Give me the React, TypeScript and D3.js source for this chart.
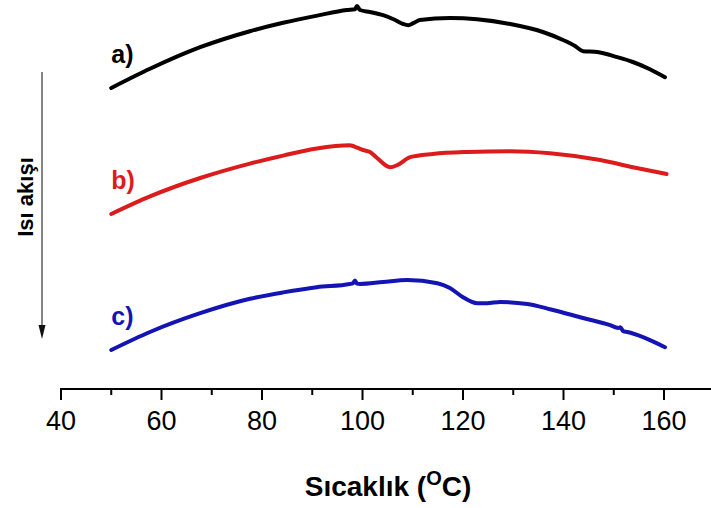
import React from "react";
import * as d3 from "d3";

// DSC traces, heat flow in arbitrary units
const tempsA = [50, 57.7, 67.7, 77.6, 84.2, 91, 96.9, 98.5, 98.9, 99.5, 101.5, 104.1, 106.5, 108.1, 109.1, 110.1, 111.4, 117.4, 122.8, 129.4, 135.9, 139.9, 142.3, 143.9, 146.7, 150.7, 153.8, 157.2, 160.2];
const flowA = [7.55, 8.03, 8.57, 8.97, 9.18, 9.36, 9.5, 9.52, 9.6, 9.5, 9.45, 9.37, 9.25, 9.15, 9.12, 9.17, 9.25, 9.3, 9.27, 9.15, 8.95, 8.75, 8.6, 8.47, 8.45, 8.32, 8.2, 8.02, 7.82];

const tempsB = [50, 57.7, 67.7, 77.6, 84.2, 90.9, 97.5, 98.1, 98.9, 100.1, 101.5, 102.9, 105.5, 106.9, 109.5, 114.0, 120.8, 129.4, 137.3, 147.3, 153.8, 160.5];
const flowB = [4.4, 4.84, 5.3, 5.66, 5.86, 6.04, 6.12, 6.1, 6.06, 6.0, 5.95, 5.8, 5.57, 5.62, 5.82, 5.9, 5.95, 5.97, 5.92, 5.75, 5.57, 5.4];

const tempsC = [50, 57.7, 67.7, 77.6, 84.2, 90.9, 97.5, 98.1, 98.5, 98.9, 99.5, 104.1, 108.9, 114.9, 117.4, 120.0, 122.8, 124.8, 127.4, 132.8, 137.3, 143.9, 149.3, 150.9, 151.3, 151.9, 152.7, 160.2];
const flowC = [1.0, 1.45, 1.92, 2.28, 2.44, 2.57, 2.65, 2.67, 2.74, 2.66, 2.65, 2.7, 2.75, 2.67, 2.55, 2.32, 2.17, 2.17, 2.2, 2.15, 2.02, 1.8, 1.62, 1.55, 1.57, 1.47, 1.45, 1.07];

const seriesLabels = ["a)", "b)", "c)"];
const seriesColors = ["#000000", "#dc1c1c", "#1414b4"];

const xTicks = [40, 60, 80, 100, 120, 140, 160];
const xMinorTicks = [50, 70, 90, 110, 130, 150, 170];

const FONT = "'Liberation Sans', Arial, sans-serif";

export default function App() {
  const width = 711;
  const height = 508;

  const xScale = d3.scaleLinear().domain([40, 170]).range([61, 714.25]);
  const yScale = d3.scaleLinear().domain([0, 10]).range([390, -10]);
  const axisY = 389;

  const line = d3
    .line<[number, number]>()
    .x((d) => xScale(d[0]))
    .y((d) => yScale(d[1]))
    .curve(d3.curveMonotoneX);

  const series = [
    { t: tempsA, v: flowA },
    { t: tempsB, v: flowB },
    { t: tempsC, v: flowC },
  ];

  return (
    <svg
      width={width}
      height={height}
      style={{ position: "absolute", left: 0, top: 0, background: "#fff" }}
      fontFamily={FONT}
    >
      {series.map((s, i) => {
        const pts = s.t.map((t, j) => [t, s.v[j]] as [number, number]);
        return (
          <g key={i}>
            <path
              d={line(pts) || ""}
              fill="none"
              stroke={seriesColors[i]}
              strokeWidth={4}
              strokeLinecap="round"
              strokeLinejoin="round"
            />
            <text
              x={xScale(s.t[0])}
              y={yScale(s.v[0]) - 25}
              fontSize={25}
              fontWeight="bold"
              fill={seriesColors[i]}
            >
              {seriesLabels[i]}
            </text>
          </g>
        );
      })}

      {/* heat flow arrow */}
      <line x1={42} y1={72} x2={42} y2={330} stroke="#333" strokeWidth={1.2} />
      <path d="M38.5,325 L45.5,325 L42,339 Z" fill="#111" />
      <text
        transform="translate(33,197) rotate(-90)"
        textAnchor="middle"
        fontSize={22}
        fontWeight="bold"
      >
        Isı akışı
      </text>

      {/* x axis */}
      <line x1={xScale(40) - 1} x2={width} y1={axisY} y2={axisY} stroke="#000" strokeWidth={2} />
      {xTicks.map((t) => (
        <g key={t}>
          <line x1={xScale(t)} x2={xScale(t)} y1={axisY} y2={axisY + 11} stroke="#000" strokeWidth={2} />
          <text x={xScale(t)} y={430} textAnchor="middle" fontSize={27}>
            {t}
          </text>
        </g>
      ))}
      {xMinorTicks.map((t) => (
        <line key={t} x1={xScale(t)} x2={xScale(t)} y1={axisY} y2={axisY + 6} stroke="#000" strokeWidth={2} />
      ))}
      <text x={388} y={496} textAnchor="middle" fontSize={28} fontWeight="bold">
        Sıcaklık (
        <tspan fontSize={20} dy={-11}>O</tspan>
        <tspan dy={11}>C)</tspan>
      </text>
    </svg>
  );
}
